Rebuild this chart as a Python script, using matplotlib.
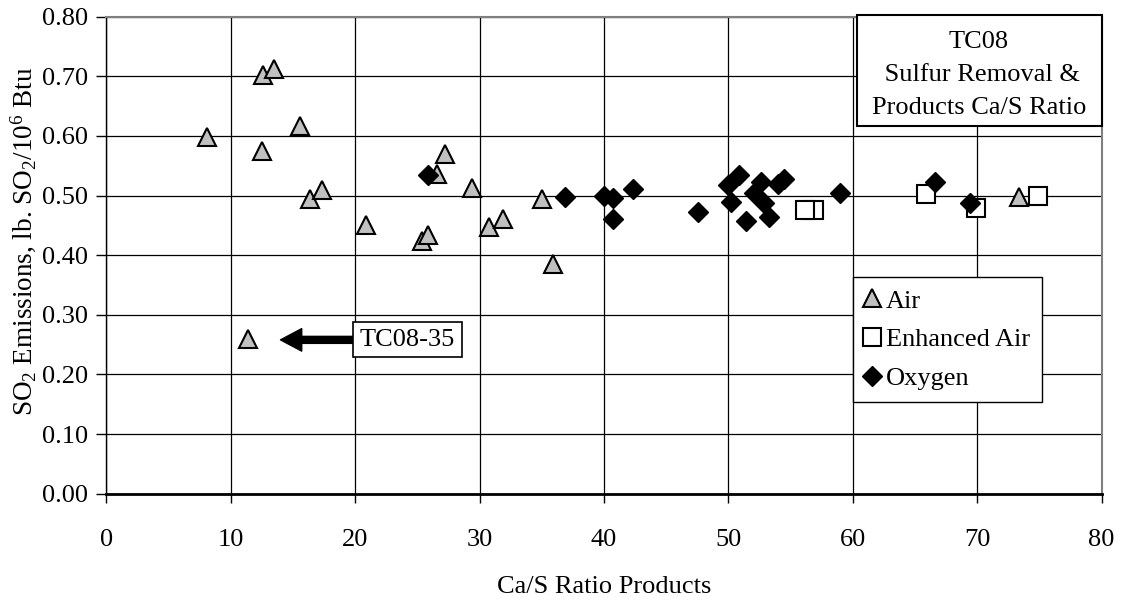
import matplotlib
matplotlib.use("Agg")
import matplotlib.pyplot as plt
from matplotlib.patches import Rectangle

plt.rcParams['font.family'] = ['Liberation Serif', 'DejaVu Serif']
plt.rcParams['mathtext.fontset'] = 'custom'
plt.rcParams['mathtext.rm'] = 'Liberation Serif'
plt.rcParams['mathtext.it'] = 'Liberation Serif:italic'
plt.rcParams['mathtext.bf'] = 'Liberation Serif:bold'

# Ca/S ratio in products vs. SO2 emissions, by combustion mode
air_x = [8.1, 12.6, 13.5, 12.5, 15.6, 16.4, 17.3, 11.4, 20.9, 25.4, 25.9,
         26.6, 27.2, 29.4, 30.8, 31.9, 35.0, 35.9, 73.4]
air_y = [0.599, 0.702, 0.712, 0.575, 0.617, 0.495, 0.510, 0.259, 0.451, 0.424,
         0.434, 0.536, 0.570, 0.512, 0.448, 0.460, 0.495, 0.386, 0.498]

enh_x = [56.9, 56.2, 65.9, 69.9, 74.9]
enh_y = [0.476, 0.476, 0.502, 0.480, 0.499]

oxy_x = [25.9, 36.9, 40.0, 40.7, 40.7, 42.3, 47.6, 50.0, 50.9, 50.2, 51.4,
         52.1, 52.6, 52.9, 53.3, 54.0, 54.5, 59.0, 66.6, 69.4]
oxy_y = [0.535, 0.497, 0.499, 0.496, 0.461, 0.511, 0.473, 0.518, 0.535, 0.490,
         0.458, 0.504, 0.523, 0.488, 0.464, 0.520, 0.528, 0.505, 0.522, 0.487]

x_ticks = [0, 10, 20, 30, 40, 50, 60, 70, 80]
y_ticks = [0.0, 0.1, 0.2, 0.3, 0.4, 0.5, 0.6, 0.7, 0.8]

# TC08-35 outlier callout
callout_xy = (14.0, 0.258)
callout_text_xy = (24.2, 0.258)

FS = 19

fig = plt.figure(figsize=(11.22, 6.04), dpi=100)
W, H = 1122, 604
ax = fig.add_axes([106.3 / W, 1 - 493.7 / H, 995.2 / W, 477.0 / H])

ax.plot(air_x, air_y, linestyle='none', marker='^', ms=13, mfc='#c0c0c0',
        mec='black', mew=1.5, label='Air', zorder=3)
ax.plot(enh_x, enh_y, linestyle='none', marker='s', ms=13, mfc='white',
        mec='black', mew=1.5, label='Enhanced Air', zorder=3)
ax.plot(oxy_x, oxy_y, linestyle='none', marker='D', ms=10, mfc='black',
        mec='black', mew=1, label='Oxygen', zorder=3)

ax.set_xlim(0, 80)
ax.set_ylim(0, 0.8)
ax.set_xticks(x_ticks)
ax.set_xticklabels([str(v) for v in x_ticks])
ax.set_yticks(y_ticks)
ax.set_yticklabels([f"{v:.2f}" for v in y_ticks])

ax.set_axisbelow(True)
ax.grid(True, color='black', linewidth=0.9)

for side in ('top', 'right'):
    ax.spines[side].set_color('#808080')
    ax.spines[side].set_linewidth(1.5)
ax.spines['left'].set_color('black')
ax.spines['left'].set_linewidth(1.0)
ax.spines['bottom'].set_color('black')
ax.spines['bottom'].set_linewidth(2.0)

ax.tick_params(axis='x', direction='out', length=6.5, width=1, pad=19,
               labelsize=FS, colors='black')
ax.tick_params(axis='y', direction='out', length=7, width=1, pad=6,
               labelsize=FS, colors='black')

ax.set_xlabel('Ca/S Ratio Products', fontsize=FS, labelpad=18)
ax.set_ylabel(r'SO$_2$ Emissions, lb. SO$_2$/10$^6$ Btu', fontsize=19.5)
ax.yaxis.set_label_coords(-0.069, 0.528)

# Title box in the upper right corner
ax.add_patch(Rectangle((0.754, 0.771), 0.246, 0.2326, transform=ax.transAxes,
                       facecolor='white', edgecolor='black', linewidth=1.5,
                       clip_on=False, zorder=4))
ax.text(0.877, 0.877, 'TC08\n Sulfur Removal &\nProducts Ca/S Ratio',
        transform=ax.transAxes, ha='center', va='center', fontsize=FS,
        linespacing=1.65, zorder=5)

ax.annotate('TC08-35', xy=callout_xy, xytext=callout_text_xy,
            ha='center', va='center', fontsize=FS, zorder=5,
            bbox=dict(boxstyle='square,pad=0.25', facecolor='white',
                      edgecolor='black', linewidth=1.2),
            arrowprops=dict(arrowstyle='simple,head_length=0.85,head_width=0.9,tail_width=0.28',
                            facecolor='black', edgecolor='black',
                            shrinkA=0, shrinkB=0, mutation_scale=18))

leg = ax.legend(loc='upper left', bbox_to_anchor=(0.750, 0.4537),
                fontsize=FS, frameon=True, fancybox=False, framealpha=1,
                edgecolor='black', borderpad=0.45, labelspacing=0.58,
                handlelength=0.6, handletextpad=0.2, borderaxespad=0)
leg.get_frame().set_linewidth(1.0)
leg.set_zorder(6)

fig.savefig('out.png', dpi=100)
